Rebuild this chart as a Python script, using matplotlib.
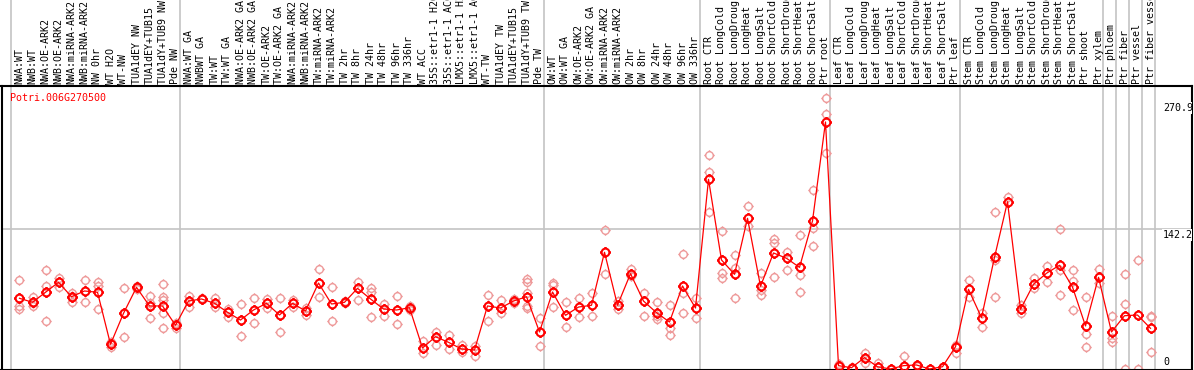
import matplotlib
matplotlib.use("Agg")
import matplotlib.pyplot as plt
from matplotlib.path import Path

plt.rcParams['font.family'] = ['DejaVu Sans Mono']

gene = "Potri.006G270500"

labels = [
    "NWA:WT", "NWB:WT", "NWA:OE-ARK2", "NWB:OE-ARK2", "NWA:miRNA-ARK2", "NWB:miRNA-ARK2",
    "NW 0hr", "WT H2O", "WT-NW", "TUA1dEY NW", "TUA1dEY+TUB15", "TUA1dY+TUB9 NW", "Pde NW",
    "NWA:WT GA", "NWBWT GA", "TW:WT", "TW:WT GA", "NWA:OE-ARK2 GA", "NWB:OE-ARK2 GA",
    "TW:OE-ARK2", "TW:OE-ARK2 GA", "NWA:miRNA-ARK2", "NWB:miRNA-ARK2", "TW:miRNA-ARK2",
    "TW:miRNA-ARK2", "TW 2hr", "TW 8hr", "TW 24hr", "TW 48hr", "TW 96hr", "TW 336hr", "WT ACC",
    "35S::etr1-1 H2O", "35S::etr1-1 ACC", "LMX5::etr1-1 H2O", "LMX5::etr1-1 ACC", "WT-TW",
    "TUA1dEY TW", "TUA1dEY+TUB15", "TUA1dY+TUB9 TW", "Pde TW",
    "OW:WT", "OW:WT GA", "OW:OE-ARK2", "OW:OE-ARK2 GA", "OW:miRNA-ARK2", "OW:miRNA-ARK2",
    "OW 2hr", "OW 8hr", "OW 24hr", "OW 48hr", "OW 96hr", "OW 336hr",
    "Root CTR", "Root LongCold", "Root LongDrought", "Root LongHeat", "Root LongSalt",
    "Root ShortCold", "Root ShortDrought", "Root ShortHeat", "Root ShortSalt", "Ptr root",
    "Leaf CTR", "Leaf LongCold", "Leaf LongDrought", "Leaf LongHeat", "Leaf LongSalt",
    "Leaf ShortCold", "Leaf ShortDrought", "Leaf ShortHeat", "Leaf ShortSalt", "Ptr leaf",
    "Stem CTR", "Stem LongCold", "Stem LongDrought", "Stem LongHeat", "Stem LongSalt",
    "Stem ShortCold", "Stem ShortDrought", "Stem ShortHeat", "Stem ShortSalt", "Ptr shoot",
    "Ptr xylem", "Ptr phloem", "Ptr fiber", "Ptr vessel", "Ptr fiber vessel",
]

means = [
    71.8, 67.7, 77.9, 88.0, 73.4, 79.2, 77.9, 25.1, 56.5, 82.9, 64.0, 64.0, 44.4,
    69.0, 71.1, 66.7, 57.6, 49.7, 59.9, 66.7, 54.8, 66.7, 58.9, 87.3, 66.0, 67.7,
    81.9, 71.1, 60.9, 59.9, 62.2, 21.3, 32.8, 27.1, 20.3, 19.3, 64.0, 61.9, 69.0,
    73.4, 37.6,
    78.2, 54.5, 62.9, 64.7, 118.5, 64.7, 96.8, 69.0, 57.2, 47.7, 84.3, 61.9,
    192.6, 110.7, 96.1, 153.0, 84.0, 117.8, 112.4, 103.2, 150.3, 250.8,
    3.4, 1.3, 11.5, 2.3, 0.0, 3.4, 4.1, 0.0, 2.3, 22.6,
    80.9, 52.1, 113.4, 169.8, 60.6, 86.0, 97.2, 105.3, 83.2, 43.7, 93.1, 37.6,
    54.1, 54.8, 41.3,
]

reps = [
    [90.4, 64.0, 60.9], [73.4, 64.0, 67.0], [100.5, 84.3, 48.7], [92.1, 82.9],
    [76.9, 68.3, 74.1], [90.4, 67.7], [88.0, 84.6, 60.6], [22.6, 27.4], [81.9, 32.5],
    [84.3, 81.2], [74.1, 67.3, 51.5], [86.0, 73.4, 70.1, 56.5, 41.3], [46.4, 41.6],
    [74.1, 62.6], [72.1], [72.4, 62.6], [60.9, 53.1], [65.7, 33.5], [72.1, 46.4],
    [71.1, 62.2], [72.1, 37.3], [70.1, 63.2], [54.8, 62.2], [101.2, 72.8], [82.9, 48.7],
    [67.0, 69.0], [88.6, 70.1], [81.9, 78.5, 52.5], [66.0, 53.8], [73.8, 45.4],
    [64.0, 59.9], [28.7, 15.9], [37.9, 24.4], [34.5, 20.3], [24.4, 17.6], [23.4, 13.5],
    [74.8, 49.0], [70.1, 56.5], [71.1, 67.0], [91.4, 88.6, 77.5, 64.0, 61.6], [51.5, 23.4],
    [87.0, 62.6, 85.3], [67.7, 42.3], [72.1, 52.5], [76.9, 53.8], [140.8, 96.1],
    [69.0, 60.6], [101.8, 94.4], [77.5, 53.8], [68.0, 50.5, 53.8], [65.0, 41.9, 34.2],
    [116.4, 77.5, 56.5], [72.4, 51.5],
    [217.0, 200.0, 159.4], [140.1, 97.8, 92.7], [115.7, 102.8, 72.1], [165.5, 145.2],
    [97.8, 80.2, 74.8], [132.3, 128.2, 93.4], [119.1, 100.5], [136.0, 95.1, 78.2],
    [181.7, 143.5, 124.9], [274.8, 258.6, 219.0],
    [5.1], [2.3], [16.5, 5.8], [6.4], [0.0], [13.2], [3.0], [0.0], [2.0], [24.4, 16.5],
    [90.4, 73.4], [57.2, 42.9], [159.4, 110.7, 72.8], [174.9], [65.0, 57.2], [92.1, 81.9],
    [104.9, 88.0], [142.1, 100.5, 74.8], [100.5, 89.3, 59.9], [72.8, 35.2, 22.0],
    [101.5, 87.3], [53.8, 31.2, 27.1], [96.4, 66.0, 0.0], [110.7, 0.0], [53.8, 52.5, 17.0],
]

group_starts = [0, 13, 41, 53, 63, 73, 84, 85, 86, 87, 88]
tick_values = [270.9, 142.2, 0]

W, H = 1194, 370
fig = plt.figure(figsize=(W / 100, H / 100), dpi=100)
top_px, bot_px = 86, 369.5
ax = fig.add_axes([1.5 / W, (H - bot_px) / H, 1190 / W, (bot_px - top_px) / H])
ax.set_xlim((1.5 - 19.5) / 13, (1191.5 - 19.5) / 13)
ax.set_ylim(-0.5 / 0.985, (369 - top_px) / 0.985)
ax.set_xticks([])
ax.set_yticks([])
for s in ax.spines.values():
    s.set_color("black")
    s.set_linewidth(1.5)

# marker: open circle with four little spikes
circ = Path.unit_circle()
spikes = Path([(0, 1), (0, 1.4), (0, -1), (0, -1.4), (1, 0), (1.4, 0), (-1, 0), (-1.4, 0)],
              [Path.MOVETO, Path.LINETO] * 4)
sun = Path.make_compound_path(circ, spikes)

# separators run through the header too
ext = bot_px / (bot_px - top_px)
for g in group_starts:
    ax.axvline(g - 0.63, 0, ext, color="#c4c4c4", lw=1.2, clip_on=False, zorder=1)
ax.axhline(142.2, color="#c4c4c4", lw=1.2, zorder=1)

xs = list(range(len(means)))
for i, r in enumerate(reps):
    ax.plot([i] * len(r), r, ls="none", marker=sun, ms=7.6, mfc="none",
            mec="#ee9a9a", mew=1.0, zorder=2)
ax.plot(xs, means, color="#ff0000", lw=0.9, zorder=3)
ax.plot(xs, means, ls="none", marker=sun, ms=7.8, mfc="none", mec="#ff0000",
        mew=1.5, zorder=4)

for i, lab in enumerate(labels):
    ax.text(i, (bot_px - 84) / (bot_px - top_px), lab, rotation=90, ha="center",
            va="bottom", fontsize=7.2, transform=ax.get_xaxis_transform(), clip_on=False)

ax.text((10 - 19.5) / 13, 1 - (93 - top_px) / (bot_px - top_px), gene, color="#ff0000",
        fontsize=7.2, ha="left", va="top", transform=ax.get_xaxis_transform())

xlab = (1163 - 19.5) / 13
for v in tick_values:
    if v == 0:
        ax.text(xlab, 2, "0", fontsize=7.2, ha="left", va="bottom", clip_on=True, zorder=5)
    else:
        ax.text(xlab, v - 1.0, f"{v}", fontsize=7.2, ha="left", va="top", clip_on=True,
                zorder=5, bbox=dict(facecolor="white", edgecolor="none", pad=0.5))

fig.savefig("out.png", dpi=100)
